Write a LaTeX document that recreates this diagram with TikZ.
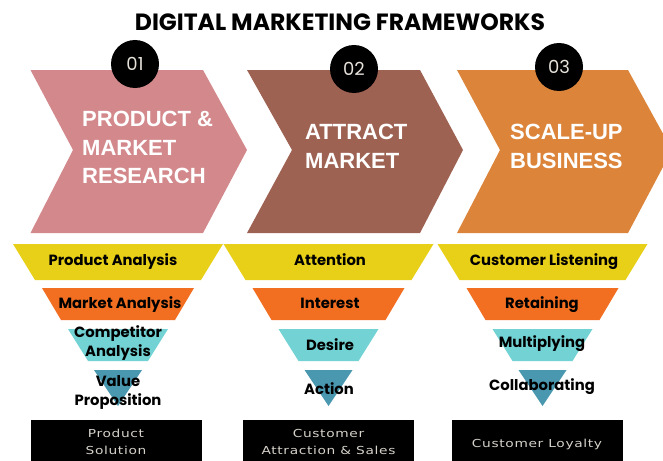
\documentclass[tikz,border=0pt]{standalone}
\usepackage{fontspec}
\setmainfont{Liberation Sans}
\newfontfamily\popfont{Poppins}
\newfontfamily\boxfont{DejaVu Sans}[FakeStretch=1.25,LetterSpace=6]
\definecolor{chevA}{HTML}{D3898C}
\definecolor{chevB}{HTML}{9E6253}
\definecolor{chevC}{HTML}{DB843A}
\definecolor{lvlA}{HTML}{E8D018}
\definecolor{lvlB}{HTML}{F26F22}
\definecolor{lvlC}{HTML}{72D2D4}
\definecolor{lvlD}{HTML}{4998B0}
\definecolor{numgray}{HTML}{E6E2DA}
\definecolor{boxgray}{HTML}{D6D2CA}
\tikzset{
  titletext/.style={font=\popfont\bfseries\fontsize{23.5}{26}\selectfont, inner sep=0pt},
  chevtext/.style={font=\bfseries\fontsize{22}{28.5}\selectfont, text=white, align=left, inner sep=0pt, anchor=north west},
  numcircle/.style={circle, fill=black, minimum size=48pt, inner sep=0pt, text=numgray, font=\popfont\fontsize{18}{20}\selectfont},
  lvltext/.style={font=\popfont\bfseries\fontsize{14.8}{19}\selectfont, inner sep=0pt, align=center},
  outbox/.style={fill=black, minimum width=171pt, minimum height=44pt, inner sep=0pt, anchor=north},
  outtext/.style={font=\boxfont\fontsize{11}{17}\selectfont, text=boxgray, inner sep=0pt, align=center}
}
\begin{document}
\begin{tikzpicture}[x=1pt,y=-1pt]
\useasboundingbox (0,0) rectangle (663,460);
\clip (0,0) rectangle (663,460);
\fill[white] (0,0) rectangle (663,460);

% title
\node[titletext] (title) at (340,22) {DIGITAL MARKETING FRAMEWORKS};

% chevrons
\fill[chevA] (30.5,70) -- (203,70) -- (247,150) -- (203,233) -- (30.5,233) -- (73,150) -- cycle;
\fill[chevB] (247,70) -- (420,70) -- (463,150) -- (420,233) -- (247,233) -- (292,150) -- cycle;
\fill[chevC] (457,70) -- (628,70) -- (672,150) -- (628,233) -- (457,233) -- (500,150) -- cycle;

\node[chevtext] (ch1) at (82,111) {PRODUCT \&\\MARKET\\RESEARCH};
\node[chevtext] (ch2) at (305,124) {ATTRACT\\MARKET};
\node[chevtext] (ch3) at (510,124) {SCALE-UP\\BUSINESS};

\node[numcircle] (n1) at (135,64) {01};
\node[numcircle] (n2) at (354,69) {02};
\node[numcircle] (n3) at (559,67) {03};

% funnels
\foreach \c in {118,328.5,542.5}{
  \fill[lvlA] (\c-105,244) -- (\c+105,244) -- (\c+83,280) -- (\c-83,280) -- cycle;
  \fill[lvlB] (\c-76,288) -- (\c+76,288) -- (\c+57,320) -- (\c-57,320) -- cycle;
  \fill[lvlC] (\c-50,329) -- (\c+50,329) -- (\c+30,361) -- (\c-30,361) -- cycle;
  \fill[lvlD] (\c-24,370) -- (\c+24,370) -- (\c,406) -- cycle;
}

% column 1 texts
\node[lvltext, anchor=base] (a1) at (113,265) {Product Analysis};
\node[lvltext, anchor=base] (a2) at (120,308) {Market Analysis};
\node[lvltext] (a3) at (118,343.5) {Competitor\\Analysis};
\node[lvltext] (a4) at (118,392.5) {Value\\Proposition};
% column 2 texts
\node[lvltext, anchor=base] (b1) at (330,265) {Attention};
\node[lvltext, anchor=base] (b2) at (330,308) {Interest};
\node[lvltext, anchor=base] (b3) at (330,350) {Desire};
\node[lvltext, anchor=base] (b4) at (329,394) {Action};
% column 3 texts
\node[lvltext, anchor=base] (c1) at (544,265) {Customer Listening};
\node[lvltext, anchor=base] (c2) at (542,308) {Retaining};
\node[lvltext, anchor=base] (c3) at (542,347) {Multiplying};
\node[lvltext, anchor=base] (c4) at (542,390) {Collaborating};

% output boxes
\node[outbox] (o1) at (116.5,420) {};
\node[outbox] (o2) at (328.5,420) {};
\node[outbox] (o3) at (537,420) {};
\node[outtext, anchor=base] (t1a) at (116,437) {Product};
\node[outtext, anchor=base] (t1b) at (116,454) {Solution};
\node[outtext, anchor=base] (t2a) at (328.5,437) {Customer};
\node[outtext, anchor=base] (t2b) at (328.5,454) {Attraction \& Sales};
\node[outtext, anchor=base] (t3) at (537,447) {Customer Loyalty};
\end{tikzpicture}
\end{document}
